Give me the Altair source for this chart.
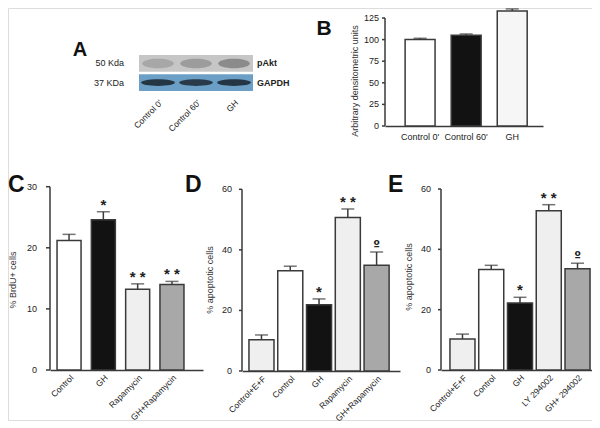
import altair as alt
import pandas as pd

FONT = "Liberation Sans, Arial, sans-serif"
AX = "#3a3a3a"
W, H = 584, 412

# ---------------- data ----------------
A_lanes = ["Control 0'", "Control 60'", "GH"]
A_rows = ["pAkt", "GAPDH"]
A_mw = ["50 Kda", "37 KDa"]
A_pakt = [0.22, 0.30, 0.42]
A_gapdh = [0.90, 0.85, 0.90]

B_cats = ["Control 0'", "Control 60'", "GH"]
B_vals = [100, 105, 133]
B_err = [1.5, 1.5, 2.5]
B_marks = ["", "", ""]
B_ticks = [0, 25, 50, 75, 100, 125]

C_cats = ["Control", "GH", "Rapamycin", "GH+Rapamycin"]
C_vals = [21.2, 24.6, 13.2, 14.0]
C_err = [1.0, 1.3, 0.9, 0.5]
C_marks = ["", "*", "* *", "* *"]
C_ticks = [0, 10, 20, 30]

D_cats = ["Control+E+F", "Control", "GH", "Rapamycin", "GH+Rapamycin"]
D_vals = [10.3, 33.1, 21.9, 50.7, 34.9]
D_err = [1.6, 1.5, 1.9, 2.8, 4.4]
D_marks = ["", "", "*", "* *", "º"]
D_ticks = [0, 20, 40, 60]

E_cats = ["Control+E+F", "Control", "GH", "LY 294002", "GH+ 294002"]
E_vals = [10.3, 33.3, 22.2, 52.8, 33.6]
E_err = [1.6, 1.4, 1.9, 2.0, 1.8]
E_marks = ["", "", "*", "* *", "º"]
E_ticks = [0, 20, 40, 60]

# ---------------- styles ----------------
WHITE, BLACK, LIGHT, MID, VLIGHT = "#ffffff", "#121212", "#efefef", "#a8a8a8", "#f6f6f6"
B_colors = [WHITE, BLACK, VLIGHT]
C_colors = [WHITE, BLACK, LIGHT, MID]
D_colors = [LIGHT, WHITE, BLACK, LIGHT, MID]
E_colors = [LIGHT, WHITE, BLACK, LIGHT, MID]


def bar_panel(cats, vals, errs, marks, colors, ticks, xrange, pi, po, align,
              yrange, axis_x, tick_len, label_gap, ytitle, title_x, title_y,
              label_angle, label_size, label_pad, cap=13):
    df = pd.DataFrame({"cat": cats, "val": vals, "err": errs, "mark": marks})
    df["up"] = df["val"] + df["err"]
    base = alt.Chart(df)
    xaxis = alt.Axis(orient="bottom", offset=-(H - yrange[0]), title=None, ticks=False,
                     labelAngle=label_angle, labelFontSize=label_size, labelFont=FONT,
                     labelColor="#222", labelPadding=label_pad, labelOverlap=False,
                     domainColor=AX, domainWidth=1.5, labelLimit=200)
    x = alt.X("cat:N", sort=cats,
              scale=alt.Scale(domain=cats, range=xrange, paddingInner=pi,
                              paddingOuter=po, align=align),
              axis=xaxis)
    yscale = alt.Scale(domain=[ticks[0], ticks[-1]], range=yrange, nice=False, zero=True)
    bars = base.mark_bar(stroke=AX, strokeWidth=1.5).encode(
        x=x, y=alt.Y("val:Q", scale=yscale, axis=None),
        fill=alt.Fill("cat:N", scale=alt.Scale(domain=cats, range=colors), legend=None))
    rule = base.mark_rule(color=AX, strokeWidth=1.5).encode(
        x=x, y=alt.Y("val:Q", scale=yscale, axis=None), y2="up:Q")
    cap_m = base.mark_tick(color=AX, thickness=1.5, size=cap).encode(
        x=x, y=alt.Y("up:Q", scale=yscale, axis=None))
    layers = [bars, rule, cap_m]
    if any(m.startswith("*") for m in marks):
        layers.append(base.transform_filter("indexof(datum.mark, '*') >= 0").mark_text(
            fontSize=15, font=FONT, fontWeight="bold", dy=-2, baseline="alphabetic",
            color="#222").encode(
            x=x, y=alt.Y("up:Q", scale=yscale, axis=None), text="mark:N"))
    if "º" in marks:
        layers.append(base.transform_filter(alt.datum.mark == "º").mark_text(
            fontSize=12, font="DejaVu Sans", fontWeight="bold", dy=-3,
            baseline="alphabetic", color="#222").encode(
            x=x, y=alt.Y("up:Q", scale=yscale, axis=None), text="mark:N"))
    # y axis drawn with the panel's own y scale
    tdf = pd.DataFrame({"v": ticks})
    tb = alt.Chart(tdf)
    dom = alt.Chart(pd.DataFrame({"lo": [ticks[0]], "hi": [ticks[-1]]})).mark_rule(
        color=AX, strokeWidth=1.5).encode(
        x=alt.value(axis_x), y=alt.Y("lo:Q", scale=yscale, axis=None), y2="hi:Q")
    tks = tb.mark_rule(color=AX, strokeWidth=1.5).encode(
        x=alt.value(axis_x - tick_len), x2=alt.value(axis_x),
        y=alt.Y("v:Q", scale=yscale, axis=None))
    lbl = tb.mark_text(align="right", baseline="middle", fontSize=9, font=FONT,
                       color="#222").encode(
        x=alt.value(axis_x - label_gap), y=alt.Y("v:Q", scale=yscale, axis=None),
        text="v:Q")
    ttl = alt.Chart(pd.DataFrame({"t": [ytitle]})).mark_text(
        angle=270, align="center", baseline="middle", fontSize=9, font=FONT,
        color="#333").encode(text="t:N", x=alt.value(title_x), y=alt.value(title_y))
    layers += [dom, tks, lbl, ttl]
    return alt.layer(*layers)


# ---------------- panel A (blot) ----------------
strip_df = pd.DataFrame([(l, r) for r in A_rows for l in A_lanes], columns=["lane", "row"])
band_df = pd.DataFrame({"lane": A_lanes * 2,
                        "row": ["pAkt"] * 3 + ["GAPDH"] * 3,
                        "v": A_pakt + A_gapdh})
lab_df = pd.DataFrame({"row": A_rows, "mw": A_mw})

xA = alt.X("lane:N", sort=A_lanes,
           scale=alt.Scale(domain=A_lanes, range=[131, 245], paddingInner=0, paddingOuter=0),
           axis=alt.Axis(orient="bottom", offset=-(H - 83), title=None, domain=False,
                         ticks=False, labelAngle=-45, labelFontSize=8.5, labelFont=FONT,
                         labelColor="#222", labelPadding=7, labelOverlap=False))
yA = alt.Y("row:N", scale=alt.Scale(domain=A_rows, range=[47, 83], paddingInner=0.12,
                                    paddingOuter=0), axis=None)

strips = alt.Chart(strip_df).mark_rect().encode(
    x=xA, y=yA,
    fill=alt.Fill("row:N", scale=alt.Scale(domain=A_rows, range=["#c6c6c6", "#6b9fc5"]),
                  legend=None))
ell_wide = "M-1,0A1,0.3,0,1,1,1,0A1,0.3,0,1,1,-1,0Z"
ell_thin = "M-1,0A1,0.2,0,1,1,1,0A1,0.2,0,1,1,-1,0Z"
pakt = alt.Chart(band_df).transform_filter(alt.datum.row == "pAkt").mark_point(
    shape=ell_wide, filled=True, size=1000, color="#3a3a3a", strokeWidth=0).encode(
    x=xA, y=yA, opacity=alt.Opacity("v:Q", scale=None))
gapdh = alt.Chart(band_df).transform_filter(alt.datum.row == "GAPDH").mark_point(
    shape=ell_thin, filled=True, size=1150, color="#1d2935", strokeWidth=0).encode(
    x=xA, y=yA, opacity=alt.Opacity("v:Q", scale=None))
mw = alt.Chart(lab_df).mark_text(align="right", fontSize=9, font=FONT, color="#222").encode(
    y=yA, x=alt.value(116), text="mw:N")
rown = alt.Chart(lab_df).mark_text(align="left", fontSize=9, font=FONT, fontWeight="bold",
                                   color="#222").encode(
    y=yA, x=alt.value(249), text="row:N")
panelA = alt.layer(strips, pakt, gapdh, mw, rown)

# ---------------- panels B-E ----------------
panelB = bar_panel(B_cats, B_vals, B_err, B_marks, B_colors, B_ticks, [377, 535], 0.35, 0.39,
                   0.56, [118, 10], 377, 3, 6, "Arbitrary densitometric units", 347, 73,
                   0, 9, 6)
panelC = bar_panel(C_cats, C_vals, C_err, C_marks, C_colors, C_ticks, [42, 195], 0.30, 0.38,
                   0.27, [362, 178.7], 42, 4, 13, "% BrdU+ cells", 5, 272, -45, 8.5, 3)
panelD = bar_panel(D_cats, D_vals, D_err, D_marks, D_colors, D_ticks, [234, 392], 0.13, 0.31,
                   0.39, [363, 181.3], 234, 3, 10, "% apoptotic cells", 202, 272, -45, 8.5, 3)
panelE = bar_panel(E_cats, E_vals, E_err, E_marks, E_colors, E_ticks, [433, 584], 0.13, 0.19,
                   0.82, [362, 181], 433, 3, 10, "% apoptotic cells", 401, 269, -45, 8.5, 3)

# ---------------- panel letters ----------------
def letter(t, x, y, size, align):
    return alt.Chart(pd.DataFrame({"t": [t]})).mark_text(
        fontSize=size, font=FONT, fontWeight="bold", align=align,
        baseline="alphabetic", color="#111").encode(
        text="t:N", x=alt.value(x), y=alt.value(y))

letters = alt.layer(letter("A", 72, 48, 20, "center"),
                    letter("B", 316, 27, 21, "center"),
                    letter("C", 0, 184, 23, "left"),
                    letter("D", 177, 184, 23, "left"),
                    letter("E", 380, 184, 23, "left"))

chart = alt.layer(panelA, panelB, panelC, panelD, panelE, letters).resolve_scale(
    x="independent", y="independent", fill="independent"
).resolve_axis(x="independent", y="independent").properties(
    width=W, height=H, padding=0
).configure_view(strokeWidth=0).configure(font=FONT)

chart.save("out.html", embed_options={"renderer": "svg", "actions": False})
